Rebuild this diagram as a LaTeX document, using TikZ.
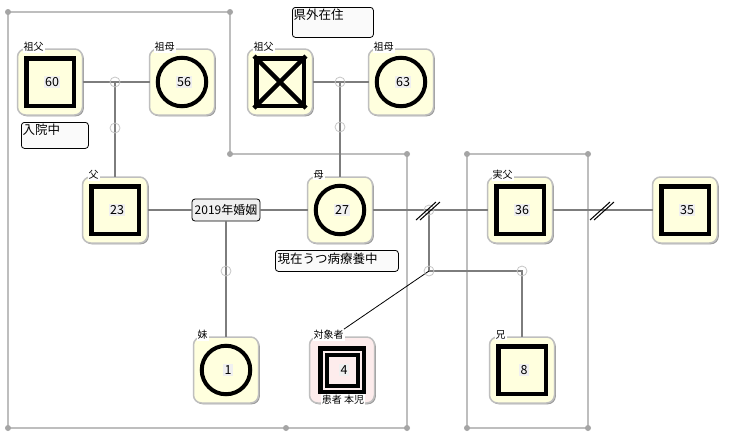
\documentclass[tikz,border=0pt]{standalone}
\usepackage{fontspec}
\setmainfont{Noto Sans CJK JP}
\usetikzlibrary{calc,shadows}
\definecolor{tileY}{RGB}{255,255,222}
\definecolor{tileP}{RGB}{253,236,236}
\definecolor{lineG}{RGB}{125,125,125}
\definecolor{boxG}{RGB}{190,190,190}
\definecolor{dotG}{RGB}{165,165,165}
\definecolor{noteF}{RGB}{250,250,250}
\definecolor{numF}{RGB}{240,240,240}
\tikzset{
 tile/.style={draw=gray!50, line width=1.5pt, rounded corners=8pt, minimum width=65pt, minimum height=66pt, fill=tileY, inner sep=0pt, outer sep=0pt, general shadow={fill=gray!80, shadow xshift=1.3pt, shadow yshift=-1.3pt}},
 msq/.style={draw=black, line width=4.5pt, minimum size=47.5pt, inner sep=0pt, fill=tileY},
 fcir/.style={circle, draw=black, line width=4pt, minimum size=48.5pt, inner sep=0pt, fill=tileY},
 num/.style={fill=numF, inner sep=1.2pt, font=\fontsize{12.5}{12.5}\selectfont},
 tag/.style={fill=white, inner sep=1pt, font=\fontsize{10}{10}\selectfont, anchor=west},
 note/.style={draw=black, line width=0.8pt, rounded corners=3pt, fill=noteF, anchor=north west, inner sep=0pt},
 notetxt/.style={anchor=north west, inner sep=0.5pt, font=\fontsize{12.5}{12.5}\selectfont},
 conn/.style={draw=lineG, line width=1.8pt},
 jn/.style={circle, draw=gray!45, line width=0.8pt, minimum size=10pt, inner sep=0pt},
 fam/.style={draw=boxG, line width=2pt},
 fdot/.style={circle, fill=dotG, minimum size=6pt, inner sep=0pt},
 slash/.style={draw=black, line width=1pt}
}
\begin{document}
\begin{tikzpicture}[x=1pt,y=-1pt]
\useasboundingbox[fill=white] (0,0) rectangle (731,440);
% family boxes
\draw[fam] (8,12) -- (230,12) -- (230,154) -- (407,154) -- (407,428) -- (8,428) -- cycle;
\draw[fam] (467,154) -- (588,154) -- (588,428) -- (467,428) -- cycle;
\foreach \p/\n in {{(8,12)}/a1,{(230,12)}/a2,{(230,154)}/a3,{(407,154)}/a4,{(407,428)}/a5,{(286,428)}/a6,{(8,428)}/a7,{(467,154)}/b1,{(588,154)}/b2,{(588,428)}/b3,{(467,428)}/b4}
  \node[fdot] (dot\n) at \p {};
% tiles
\node[tile] (gf1) at (50,82) {};
\node[tile] (gm1) at (182,82) {};
\node[tile] (gf2) at (280,82) {};
\node[tile] (gm2) at (401,82) {};
\node[tile] (fa) at (115,210) {};
\node[tile] (mo) at (340,210) {};
\node[tile] (rf) at (520,210) {};
\node[tile] (ot) at (685,210) {};
\node[tile] (sis) at (226,370) {};
\node[tile, fill=tileP] (pt) at (342,370) {};
\node[tile] (br) at (522,370) {};
% symbols
\node[msq] (gf1s) at (gf1) {};
\node[fcir] (gm1s) at (gm1) {};
\node[msq] (gf2s) at (gf2) {};
\draw[line width=4.5pt] (gf2s.north west) -- (gf2s.south east) (gf2s.north east) -- (gf2s.south west);
\node[fcir] (gm2s) at (gm2) {};
\node[msq] (fas) at (fa) {};
\node[fcir] (mos) at (mo) {};
\node[msq] (rfs) at (rf) {};
\node[msq] (ots) at (ot) {};
\node[fcir] (siss) at (sis) {};
\node[msq] (brs) at (br) {};
\node[draw=black, line width=4.5pt, minimum size=43.5pt, inner sep=0pt, fill=tileP] (pto) at (pt) {};
\node[draw=black, line width=4pt, minimum size=31pt, inner sep=0pt] (pti) at (pt) {};
% numbers
\node[num] (gf1n) at ($(gf1)+(2,0)$) {60};
\node[num] (gm1n) at ($(gm1)+(2,0)$) {56};
\node[num] (gm2n) at ($(gm2)+(2,0)$) {63};
\node[num] (fan) at ($(fa)+(2,0)$) {23};
\node[num] (mon) at ($(mo)+(2,0)$) {27};
\node[num] (rfn) at ($(rf)+(2,0)$) {36};
\node[num] (otn) at ($(ot)+(2,0)$) {35};
\node[num] (sisn) at ($(sis)+(2,0)$) {1};
\node[num] (ptn) at ($(pt)+(2,0)$) {4};
\node[num] (brn) at ($(br)+(2,0)$) {8};
% tags
\node[tag] (gf1l) at ($(gf1.north west)+(5,-2)$) {祖父};
\node[tag] (gm1l) at ($(gm1.north west)+(4,-2)$) {祖母};
\node[tag] (gf2l) at ($(gf2.north west)+(5,-2)$) {祖父};
\node[tag] (gm2l) at ($(gm2.north west)+(4,-2)$) {祖母};
\node[tag] (fal) at ($(fa.north west)+(5,-2)$) {父};
\node[tag] (mol) at ($(mo.north west)+(5,-2)$) {母};
\node[tag] (rfl) at ($(rf.north west)+(4,-2)$) {実父};
\node[tag] (sisl) at ($(sis.north west)+(3,-2)$) {妹};
\node[tag] (ptl) at ($(pt.north west)+(3,-2)$) {対象者};
\node[tag] (brl) at ($(br.north west)+(5,-2)$) {兄};
\node[tag, anchor=center] (ptl2) at ($(pt.south)+(1,-3)$) {患者 本児};
% notes
\node[note, minimum width=67pt, minimum height=26pt] (n1) at (21,122) {};
\node[notetxt] (n1t) at ($(n1.north west)+(1,1)$) {入院中};
\node[note, minimum width=81pt, minimum height=30pt] (n2) at (292,7) {};
\node[notetxt] (n2t) at ($(n2.north west)+(1,1)$) {県外在住};
\node[note, minimum width=123pt, minimum height=21pt] (n3) at (275,250) {};
\node[notetxt] (n3t) at ($(n3.north west)+(2,2)$) {現在うつ病療養中};
\node[draw=black, line width=0.8pt, rounded corners=3pt, fill=numF, minimum width=68pt, minimum height=22pt, inner sep=0pt, font=\fontsize{12}{12}\selectfont] (mar) at (226,210) {2019年婚姻};
% connectors
\coordinate (j1) at (115,82);
\coordinate (j2) at (115,128);
\coordinate (j3) at (340,82);
\coordinate (j4) at (340,127);
\coordinate (j5) at (226,271);
\coordinate (d1) at (429,210);
\coordinate (d2) at (429,271);
\coordinate (d3) at (522,271);
\coordinate (s1) at (428,211);
\coordinate (s2) at (602,211);
\draw[conn] (gf1) -- (gm1);
\draw[conn] (j1) -- (fa.north);
\draw[conn] (gf2) -- (gm2);
\draw[conn] (j3) -- (mo.north);
\draw[conn] (fa) -- (mar) -- (mo);
\draw[conn] (mar.south) -- (sis.north);
\draw[conn] (mo) -- (rf);
\draw[conn] (d1) -- (d2) -- (d3) -- (br.north);
\draw[conn] (rf) -- (ot);
\draw[draw=black, line width=0.8pt] (d2) -- ($(ptl.north east)+(-1,0)$);
\foreach \c/\n in {j1/k1,j2/k2,j3/k3,j4/k4,j5/k5,d1/k6,d2/k7,d3/k8}
  \node[jn] (\n) at (\c) {};
\draw[slash] ($(s1)+(-12,9)$) -- ($(s1)+(8,-9)$);
\draw[slash] ($(s1)+(-8,9)$) -- ($(s1)+(12,-9)$);
\draw[slash] ($(s2)+(-12,9)$) -- ($(s2)+(8,-9)$);
\draw[slash] ($(s2)+(-8,9)$) -- ($(s2)+(12,-9)$);
\end{tikzpicture}
\end{document}
